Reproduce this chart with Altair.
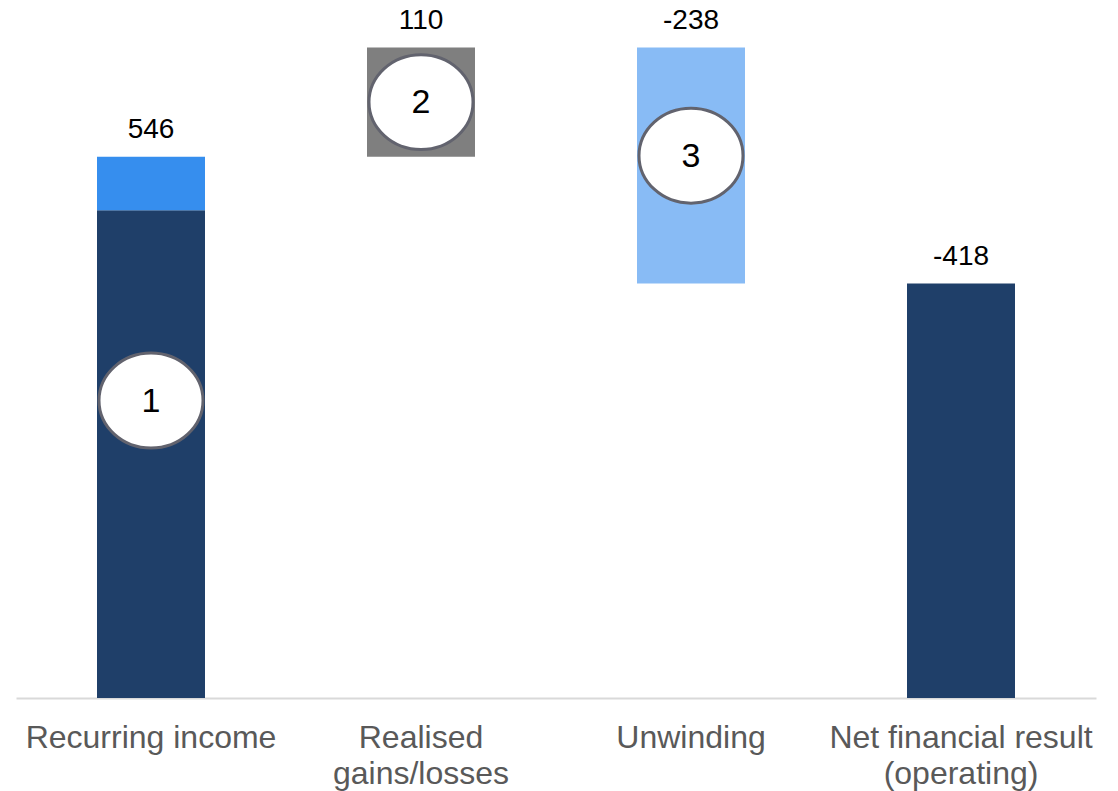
import altair as alt
import pandas as pd

# ---- data ----
categories = ["Recurring income", "Realised\ngains/losses", "Unwinding",
              "Net financial result\n(operating)"]

segment_category = [categories[0], categories[0], categories[1], categories[2], categories[3]]
segment_start = [0, 492, 546, 418, 0]
segment_end = [492, 546, 656, 656, 418]
segment_color = ["#1f3f69", "#368eee", "#7f7f7f", "#88bbf5", "#1f3f69"]

label_category = categories
label_text = ["546", "110", "-238", "-418"]
label_value = [546, 656, 656, 418]

marker_category = categories[:3]
marker_text = ["1", "2", "3"]
marker_value = [300, 601, 547]

bars = pd.DataFrame({"category": segment_category, "start": segment_start,
                     "end": segment_end, "color": segment_color})
labels = pd.DataFrame({"category": label_category, "text": label_text, "value": label_value})
markers = pd.DataFrame({"category": marker_category, "text": marker_text, "value": marker_value})

FONT = "Liberation Sans"

x_enc = alt.X(
    "category:N",
    sort=categories,
    title="",
    scale=alt.Scale(paddingInner=0.6, paddingOuter=0.3),
    axis=alt.Axis(
        labelAngle=0,
        labelFont=FONT,
        labelFontSize=32,
        labelColor="#595959",
        labelPadding=24,
        labelLimit=500,
        labelLineHeight=36,
        labelExpr="split(datum.label, '\\n')",
        ticks=False,
        domainColor="#d9d9d9",
        domainWidth=2,
        grid=False,
    ),
)
y_scale = alt.Scale(domain=[0, 704], nice=False, zero=True)

bar_layer = alt.Chart(bars).mark_bar().encode(
    x=x_enc,
    y=alt.Y("start:Q", scale=y_scale, axis=None),
    y2="end:Q",
    color=alt.Color("color:N", scale=None),
)

ellipse = "M -1 0 A 1 0.913 0 1 1 1 0 A 1 0.913 0 1 1 -1 0 Z"
point_layer = alt.Chart(markers).mark_point(
    shape=ellipse, filled=True, fill="white", stroke="#62636e",
    strokeWidth=3, size=10816, opacity=1,
).encode(
    x=alt.X("category:N", sort=categories),
    y=alt.Y("value:Q", scale=y_scale, axis=None),
)

marker_text_layer = alt.Chart(markers).mark_text(
    font=FONT, fontSize=34, color="#000000", baseline="middle", align="center", dy=1,
).encode(
    x=alt.X("category:N", sort=categories),
    y=alt.Y("value:Q", scale=y_scale, axis=None),
    text="text:N",
)

value_text_layer = alt.Chart(labels).mark_text(
    font=FONT, fontSize=28, color="#000000", baseline="alphabetic", align="center", dy=-19,
).encode(
    x=alt.X("category:N", sort=categories),
    y=alt.Y("value:Q", scale=y_scale, axis=None),
    text="text:N",
)

chart = alt.layer(bar_layer, point_layer, marker_text_layer, value_text_layer).properties(
    width=1080,
    height=698,
    autosize=alt.AutoSizeParams(type="none"),
    padding={"left": 16, "top": 0, "right": 22, "bottom": 93},
).configure_view(stroke=None, strokeWidth=0).configure_axisY(
    grid=False, domain=False
)

chart.save("out.html", embed_options={"renderer": "svg", "actions": False})
